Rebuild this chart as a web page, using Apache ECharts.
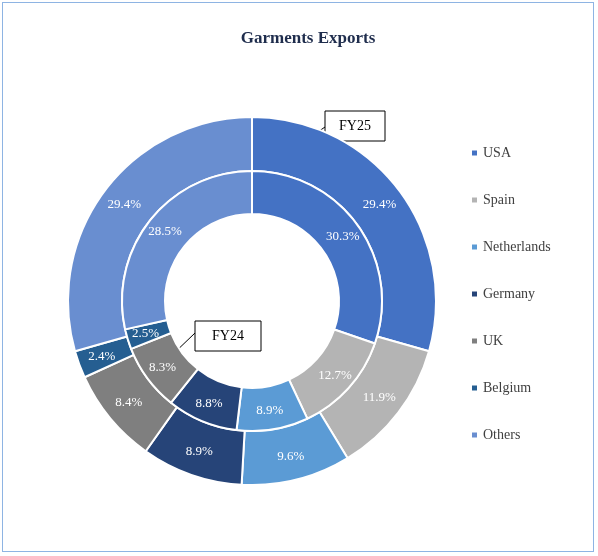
<!DOCTYPE html>
<html><head><meta charset="utf-8">
<script src="https://cdn.jsdelivr.net/npm/echarts@6/dist/echarts.min.js"></script>
<style>
html,body{margin:0;padding:0;background:#fff;}
#chart{position:absolute;left:2px;top:2px;width:592px;height:550px;border:1px solid #8EB4E3;box-sizing:border-box;}
</style></head>
<body><div id="chart"></div>
<script>
var categories = ['USA','Spain','Netherlands','Germany','UK','Belgium','Others'];
var fy25 = [29.4, 11.9, 9.6, 8.9, 8.4, 2.4, 29.4];
var fy24 = [30.3, 12.7, 8.9, 8.8, 8.3, 2.5, 28.5];
var colors = ['#4472C4','#B4B4B4','#5B9BD5','#264478','#7F7F7F','#255E91','#698ED0'];

var chart = echarts.init(document.getElementById('chart'));
function mk(vals){ return categories.map(function(c,i){return {name:c,value:vals[i]};}); }
var lbl = {show:true, position:'inside', color:'#fff', fontFamily:'Liberation Serif', fontSize:13,
  formatter:function(p){return p.value.toFixed(1)+'%';}};
chart.setOption({
  color: colors,
  title:{text:'Garments Exports', left:300, top:22, textAlign:'center',
    textStyle:{fontFamily:'Liberation Serif', fontSize:17, fontWeight:'bold', color:'#1F2D4D'}},
  legend:{orient:'vertical', left:462, top:138, itemGap:33, itemWidth:7, itemHeight:7, icon:'rect',
    data:categories, textStyle:{fontFamily:'Liberation Serif', fontSize:14, color:'#404040'}},
  series:[
    {type:'pie', name:'FY25', center:[249,298], radius:[130,184], startAngle:90, clockwise:true,
     itemStyle:{borderColor:'#fff', borderWidth:2}, label:lbl, labelLine:{show:false},
     emphasis:{disabled:true}, data:mk(fy25)},
    {type:'pie', name:'FY24', center:[249,298], radius:[87,130], startAngle:90, clockwise:true,
     itemStyle:{borderColor:'#fff', borderWidth:2}, label:lbl, labelLine:{show:false},
     emphasis:{disabled:true}, data:mk(fy24)}
  ],
  graphic:[
    {type:'line', shape:{x1:322,y1:124,x2:297,y2:141}, style:{stroke:'#000',lineWidth:1}},
    {type:'rect', shape:{x:322,y:108,width:60,height:30}, style:{fill:'#fff',stroke:'#000',lineWidth:1}},
    {type:'text', x:352, y:123, style:{text:'FY25', align:'center', verticalAlign:'middle',
      font:'14px Liberation Serif', fill:'#000'}},
    {type:'line', shape:{x1:192,y1:330,x2:167,y2:354}, style:{stroke:'#000',lineWidth:1}},
    {type:'rect', shape:{x:192,y:318,width:66,height:30}, style:{fill:'#fff',stroke:'#000',lineWidth:1}},
    {type:'text', x:225, y:333, style:{text:'FY24', align:'center', verticalAlign:'middle',
      font:'14px Liberation Serif', fill:'#000'}}
  ]
});
</script></body></html>
